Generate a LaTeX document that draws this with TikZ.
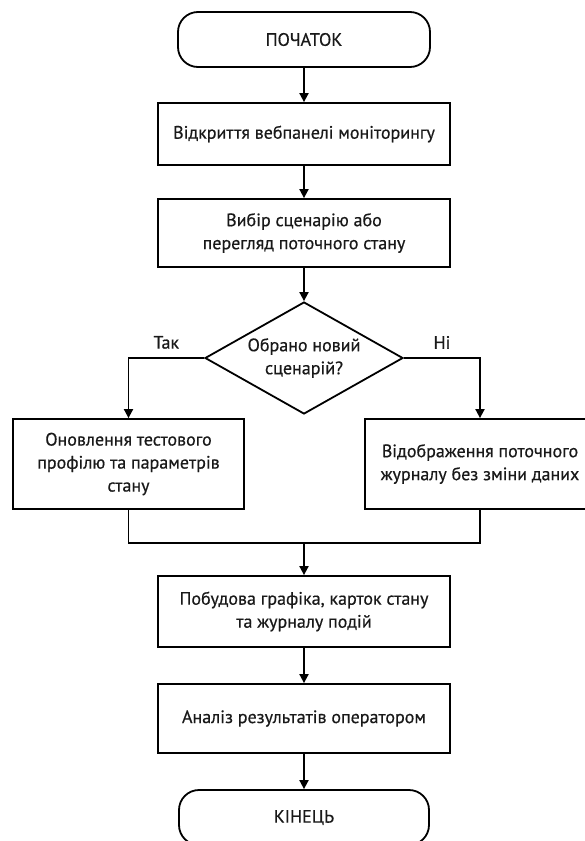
\documentclass[tikz,border=0pt]{standalone}
\usepackage{fontspec}
\setmainfont{PT Sans}[BoldFont={PT Sans}, BoldFeatures={FakeBold=0.5}]
\usetikzlibrary{shapes.geometric,arrows.meta}
\begin{document}
\begin{tikzpicture}[x=1pt,y=-1pt,
  every node/.style={font=\fontsize{18}{23}\selectfont\bfseries, text=black!90},
  proc/.style={draw, line width=1.8pt, minimum width=292pt, align=center, inner sep=0pt},
  term/.style={draw, line width=1.8pt, rounded corners=20pt, minimum width=252pt, minimum height=55pt, inner sep=0pt},
  dec/.style={draw, diamond, aspect=1.77, line width=1.8pt, minimum width=198pt, minimum height=112pt, inner sep=0pt, align=center},
  conn/.style={line width=1.8pt, -{Triangle[length=9pt,width=9pt]}},
  plain/.style={line width=1.8pt}]
\useasboundingbox (0,0) rectangle (584,841);
\fill[white] (0,0) rectangle (584,841);
\node[term] (start) at (304,39.5) {ПОЧАТОК};
\node[proc, minimum height=62pt] (b1) at (304,134) {Відкриття вебпанелі моніторингу};
\node[proc, minimum height=68pt] (b2) at (304,233) {Вибір сценарію або\\перегляд поточного стану};
\node[dec] (d) at (304,358) {Обрано новий\\сценарій?};
\node[proc, minimum width=231pt, minimum height=90pt] (l) at (128.5,464) {Оновлення тестового\\профілю та параметрів\\стану};
\node[proc, minimum width=230pt, minimum height=90pt] (r) at (480,464) {Відображення поточного\\журналу без зміни даних};
\node[proc, minimum height=71pt] (b3) at (304,611.5) {Побудова графіка, карток стану\\та журналу подій};
\node[proc, minimum height=69pt] (b4) at (304,718.5) {Аналіз результатів оператором};
\node[term, minimum width=250pt] (end) at (304,817.5) {КІНЕЦЬ};
\coordinate (m) at (304,543);
\draw[conn] (start) -- (b1);
\draw[conn] (b1) -- (b2);
\draw[conn] (b2) -- (d);
\draw[conn] (d.west) -| node[pos=0.25, above=5pt] (yes) {Так} (l.north);
\draw[conn] (d.east) -| node[pos=0.25, above=5pt] (no) {Ні} (r.north);
\draw[plain] (l.south) |- (m) -| (r.south);
\draw[conn] (m) -- (b3);
\draw[conn] (b3) -- (b4);
\draw[conn] (b4) -- (end);
\end{tikzpicture}
\end{document}
